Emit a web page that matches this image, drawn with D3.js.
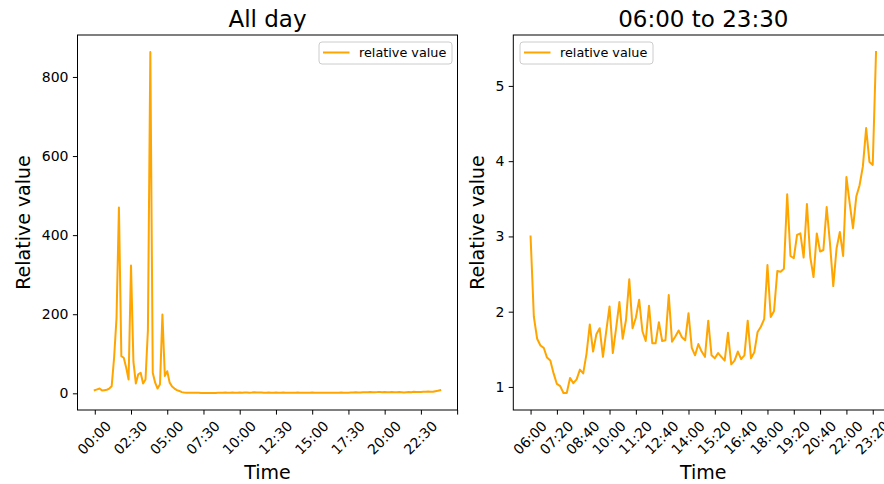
<!DOCTYPE html>
<html>
<head>
<meta charset="utf-8">
<script src="https://cdn.jsdelivr.net/npm/d3@7"></script>
<style>
  html, body { margin: 0; padding: 0; background: #fff; }
  svg { display: block; font-family: "DejaVu Sans", sans-serif; }
</style>
</head>
<body>
<svg id="chart" width="884" height="484"></svg>
<script>
// ---------------- data ----------------
const stepMinutes = 10;

// 00:00 – 05:50 (10-minute steps)
const earlyValues = [8, 10, 12, 7, 8, 9, 12, 18, 90, 190, 470, 94, 90, 65, 35, 323, 80, 25,
  48, 52, 25, 35, 160, 863, 52, 27, 12, 23, 199, 44, 56, 27, 17, 12, 8, 6];

// 06:00 – 23:30 (10-minute steps)
const windowValues = [3.00, 1.93, 1.64, 1.55, 1.52, 1.39, 1.35, 1.18, 1.04, 1.01,
  0.92, 0.92, 1.12, 1.05, 1.10, 1.23, 1.18, 1.44, 1.83, 1.47,
  1.70, 1.78, 1.40, 1.74, 2.07, 1.45, 1.78, 2.13, 1.64, 1.89,
  2.43, 1.78, 1.92, 2.16, 1.74, 1.61, 2.08, 1.58, 1.58, 1.86,
  1.61, 1.62, 2.22, 1.60, 1.67, 1.75, 1.66, 1.62, 1.98, 1.52,
  1.42, 1.57, 1.47, 1.40, 1.88, 1.42, 1.38, 1.45, 1.40, 1.35,
  1.72, 1.30, 1.35, 1.47, 1.37, 1.42, 1.88, 1.38, 1.46, 1.73,
  1.80, 1.90, 2.62, 1.93, 2.01, 2.54, 2.53, 2.57, 3.56, 2.74,
  2.71, 3.02, 3.04, 2.72, 3.43, 2.73, 2.46, 3.04, 2.80, 2.82,
  3.39, 2.91, 2.34, 2.84, 3.06, 2.74, 3.79, 3.44, 3.11, 3.53,
  3.68, 3.93, 4.44, 3.99, 3.95, 5.45];

// 23:40 – 23:50
const lateValues = [6.5, 8];

const allDayValues = [...earlyValues, ...windowValues, ...lateValues];

const allDayStart = "00:00";
const windowStart = "06:00";

const leftTickLabels = ["00:00", "02:30", "05:00", "07:30", "10:00", "12:30", "15:00", "17:30", "20:00", "22:30"];
const leftTickStep = 150; // minutes
const rightTickLabels = ["06:00", "07:20", "08:40", "10:00", "11:20", "12:40", "14:00", "15:20",
  "16:40", "18:00", "19:20", "20:40", "22:00", "23:20"];
const leftYTicks = [0, 200, 400, 600, 800];
const rightYTicks = [1, 2, 3, 4, 5];

const titles = ["All day", "06:00 to 23:30"];
const xLabel = "Time";
const yLabel = "Relative value";
const legendLabel = "relative value";
const lineColor = "#FFA500";

// ---------------- helpers ----------------
const toMin = s => { const [h, m] = s.split(":").map(Number); return h * 60 + m; };

const svg = d3.select("#chart");
const plotTop = 35, plotBottom = 410;
const tickFont = 14;

function panel(cfg) {
  const { x0, x1, values, start, tickMinutes, tickLabels, yTicks, title, legendX, yLabelX } = cfg;
  const startMin = toMin(start);
  const pts = values.map((v, i) => ({ t: startMin + i * stepMinutes, v }));
  const tExt = d3.extent(pts, d => d.t);
  const vExt = d3.extent(pts, d => d.v);
  const tPad = (tExt[1] - tExt[0]) * 0.05;
  const vPad = (vExt[1] - vExt[0]) * 0.05;
  const x = d3.scaleLinear().domain([tExt[0] - tPad, tExt[1] + tPad]).range([x0, x1]);
  const y = d3.scaleLinear().domain([vExt[0] - vPad, vExt[1] + vPad]).range([plotBottom, plotTop]);

  const g = svg.append("g");

  // line
  g.append("path")
    .datum(pts)
    .attr("fill", "none")
    .attr("stroke", lineColor)
    .attr("stroke-width", 2)
    .attr("stroke-linejoin", "round")
    .attr("stroke-linecap", "square")
    .attr("d", d3.line().x(d => x(d.t)).y(d => y(d.v)));

  // frame
  g.append("rect")
    .attr("x", x0).attr("y", plotTop)
    .attr("width", x1 - x0).attr("height", plotBottom - plotTop)
    .attr("fill", "none").attr("stroke", "#000").attr("stroke-width", 1);

  // x axis
  const labelMap = new Map(tickLabels.map(l => [toMin(l), l]));
  const xAxis = d3.axisBottom(x)
    .tickValues(tickMinutes)
    .tickSize(4.6)
    .tickSizeOuter(0)
    .tickPadding(4.6)
    .tickFormat(d => labelMap.get(d) || "");
  const xg = g.append("g").attr("transform", `translate(0,${plotBottom})`).call(xAxis);
  xg.select(".domain").remove();
  xg.selectAll(".tick line").attr("stroke", "#000").attr("stroke-width", 1);
  xg.selectAll(".tick text")
    .attr("font-size", tickFont)
    .attr("font-family", "DejaVu Sans")
    .attr("fill", "#000")
    .attr("y", null).attr("dy", null)
    .attr("text-anchor", "middle")
    .attr("dominant-baseline", "central")
    .each(function () {
      const w = this.getComputedTextLength();
      const h = 12;
      const cy = 9.2 + (w + h) / (2 * Math.SQRT2);
      d3.select(this).attr("transform", `translate(-1,${cy}) rotate(-45)`);
    });

  // y axis
  const yAxis = d3.axisLeft(y)
    .tickValues(yTicks)
    .tickSize(4.6)
    .tickSizeOuter(0)
    .tickPadding(4.4)
    .tickFormat(d3.format("d"));
  const yg = g.append("g").attr("transform", `translate(${x0},0)`).call(yAxis);
  yg.select(".domain").remove();
  yg.selectAll(".tick line").attr("stroke", "#000").attr("stroke-width", 1);
  yg.selectAll(".tick text")
    .attr("font-size", tickFont)
    .attr("font-family", "DejaVu Sans")
    .attr("fill", "#000");

  // title
  const cx = (x0 + x1) / 2;
  g.append("text")
    .attr("x", cx).attr("y", 27)
    .attr("text-anchor", "middle")
    .attr("font-size", 23)
    .attr("fill", "#000")
    .text(title);

  // x label
  g.append("text")
    .attr("x", cx).attr("y", 479)
    .attr("text-anchor", "middle")
    .attr("font-size", 19)
    .attr("fill", "#000")
    .text(xLabel);

  // y label
  g.append("text")
    .attr("transform", `translate(${yLabelX},${(plotTop + plotBottom) / 2}) rotate(-90)`)
    .attr("text-anchor", "middle")
    .attr("dominant-baseline", "central")
    .attr("font-size", 19)
    .attr("fill", "#000")
    .text(yLabel);

  // legend
  const lg = g.append("g").attr("transform", `translate(${legendX},42)`);
  lg.append("rect")
    .attr("x", 0).attr("y", 0)
    .attr("width", 133).attr("height", 22)
    .attr("rx", 3)
    .attr("fill", "#fff").attr("fill-opacity", 0.8)
    .attr("stroke", "#cccccc").attr("stroke-width", 1);
  lg.append("line")
    .attr("x1", 4).attr("x2", 30.5)
    .attr("y1", 10.5).attr("y2", 10.5)
    .attr("stroke", lineColor).attr("stroke-width", 2);
  lg.append("text")
    .attr("x", 40).attr("y", 15.2)
    .attr("font-size", 12.8)
    .attr("fill", "#000")
    .text(legendLabel);
}

// left panel: all day
const leftTicks = d3.range(0, 24 * 60 + leftTickStep + 1, leftTickStep);
panel({
  x0: 77.5, x1: 457.5,
  values: allDayValues,
  start: allDayStart,
  tickMinutes: leftTicks.filter(t => t <= 1501),
  tickLabels: leftTickLabels,
  yTicks: leftYTicks,
  title: titles[0],
  legendX: 319,
  yLabelX: 23
});

// right panel: 06:00 to 23:30
panel({
  x0: 513.3, x1: 893.3,
  values: windowValues,
  start: windowStart,
  tickMinutes: rightTickLabels.map(toMin),
  tickLabels: rightTickLabels,
  yTicks: rightYTicks,
  title: titles[1],
  legendX: 520,
  yLabelX: 477
});
</script>
</body>
</html>
